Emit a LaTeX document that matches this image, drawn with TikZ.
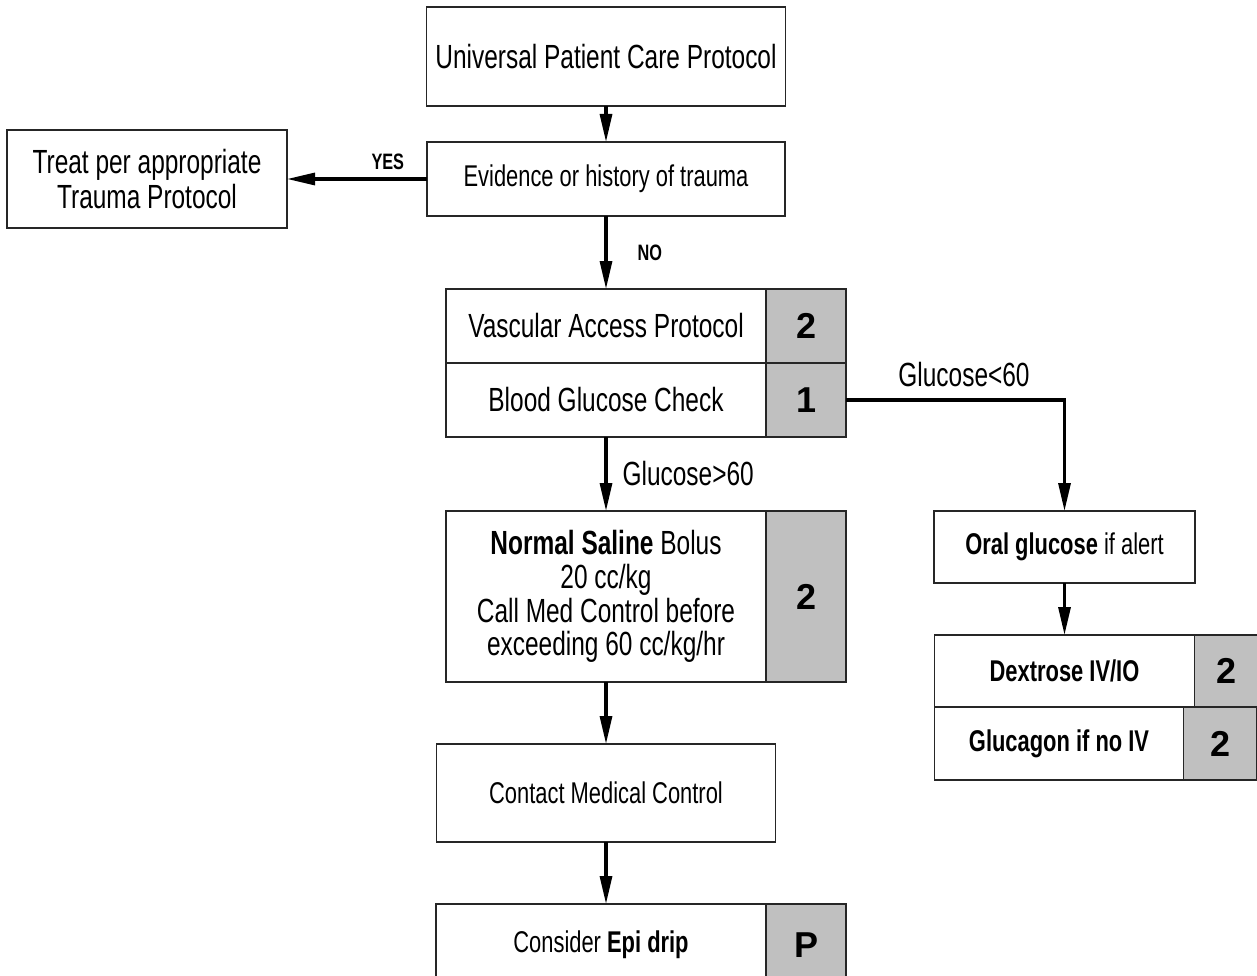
\documentclass[tikz,border=0pt]{standalone}
\usepackage{fontspec}
\setmainfont[FakeStretch=0.73]{Liberation Sans}
\newfontfamily\digitfont{Liberation Sans}
\usetikzlibrary{positioning, arrows.meta}
\definecolor{cellgray}{HTML}{C0C0C0}
\newcommand{\bigtxt}{\fontsize{33.5}{35}\selectfont}
\newcommand{\smalltxt}{\fontsize{30}{32}\selectfont}
\newcommand{\tagtxt}{\fontsize{22.3}{24}\selectfont\bfseries}
\newcommand{\numtxt}{\digitfont\fontsize{36}{38}\selectfont\bfseries}
\tikzstyle{process} = [rectangle, minimum width=320pt, minimum height=74pt, inner sep=0pt, outer sep=0pt, text centered, align=center, draw=black!85, line width=1.3pt, fill=white, font=\bigtxt]
\tikzstyle{numcell} = [process, minimum width=80pt, fill=cellgray, font=\numtxt]
\tikzstyle{arrow} = [line width=3.2pt, -{Triangle[length=28pt, width=12pt]}]
\tikzstyle{tag} = [inner sep=2pt, font=\tagtxt]

\begin{document}
\begin{tikzpicture}
    \useasboundingbox (0,0) rectangle (1257pt,-976pt);
        \node (ucp) [process, minimum width=359pt, minimum height=99pt] at (606pt,-56.5pt) {Universal Patient Care Protocol};
        \node (trauma_chk) [process, minimum width=358pt, font=\smalltxt, below=36pt of ucp] {Evidence or history of trauma};
        \node (treat_trauma) [process, minimum width=280pt, minimum height=98pt, left=140pt of trauma_chk] {Treat per appropriate\\Trauma Protocol};
        \node (vasc_access) [process, below=73pt of trauma_chk] {Vascular Access Protocol};
        \node (vasc_num) [numcell, right=0pt of vasc_access] {2};
        \node (bg_check) [process, below=0pt of vasc_access] {Blood Glucose Check};
        \node (bg_num) [numcell, right=0pt of bg_check] {1};
        \node (saline) [process, minimum height=171pt, below=74pt of bg_check, font=\fontsize{33.5}{33.7}\selectfont] {\textbf{Normal Saline} Bolus\\20 cc/kg\\Call Med Control before\\exceeding 60 cc/kg/hr};
        \node (saline_num) [numcell, minimum height=171pt, right=0pt of saline] {2};
        \node (med_control) [process, minimum width=339pt, minimum height=98pt, font=\smalltxt, below=62pt of saline] {Contact Medical Control};
        \node (epi_drip) [process, minimum width=330pt, minimum height=82pt, font=\smalltxt, below=62pt of med_control, xshift=-5pt] {Consider \textbf{Epi drip}};
        \node (epi_num) [numcell, minimum height=82pt, right=0pt of epi_drip] {P};

        \node (oral_gluc) [process, minimum width=261pt, minimum height=72pt, font=\smalltxt, anchor=north] at (1064.5pt,-511pt) {\textbf{Oral glucose} if alert};
        \node (dextrose) [process, minimum width=260pt, minimum height=72pt, font=\smalltxt\bfseries, below=52pt of oral_gluc] {Dextrose IV/IO};
        \node (dextrose_num) [numcell, minimum width=63pt, minimum height=72pt, right=0pt of dextrose] {2};
        \node (glucagon) [process, minimum width=249pt, minimum height=73pt, font=\smalltxt\bfseries, below=0pt of dextrose.south west, anchor=north west] {Glucagon if no IV};
        \node (glucagon_num) [numcell, minimum width=73pt, minimum height=73pt, right=0pt of glucagon] {2};

        \draw [arrow] (ucp) -- (trauma_chk);
        \draw [arrow] (trauma_chk) -- node [tag, above=6pt, pos=0.28] {YES} (treat_trauma);
        \draw [arrow] (trauma_chk) -- node [tag, right=28pt] {NO} (vasc_access);
        \draw [arrow] (bg_check) -- node [right=13pt, inner sep=2pt, font=\bigtxt] {Glucose>60} (saline);
        \draw [arrow] (saline) -- (med_control);
        \draw [arrow] (med_control) -- (med_control.south |- epi_drip.north);
        \draw [arrow] (bg_num.east) -| node [pos=0.27, above=10pt, inner sep=2pt, font=\bigtxt] {Glucose<60} (oral_gluc.north);
        \draw [arrow] (oral_gluc) -- (dextrose);
    \end{tikzpicture}
\end{document}
